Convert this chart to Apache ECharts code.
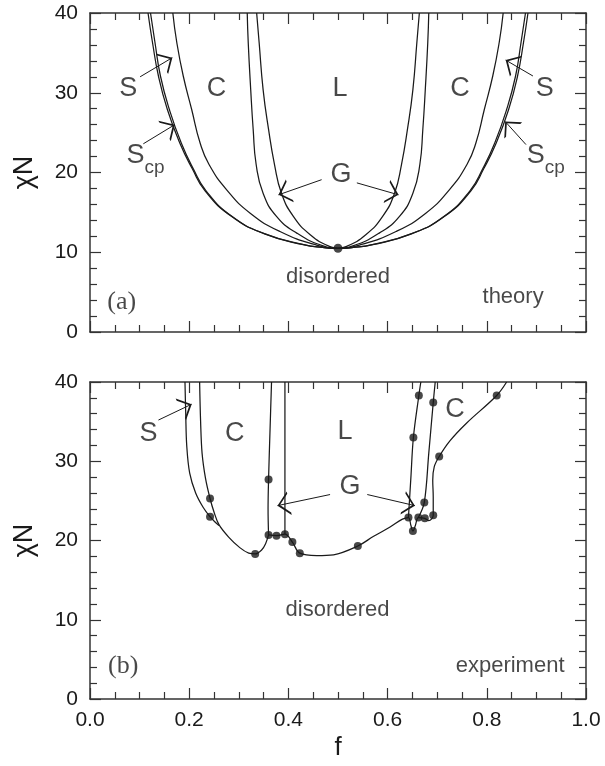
<!DOCTYPE html>
<html>
<head>
<meta charset="utf-8">
<script src="https://cdn.jsdelivr.net/npm/echarts@6/dist/echarts.min.js"></script>
<style>
  html, body { margin: 0; padding: 0; background: #fff; }
  #chart { width: 605px; height: 766px; }
</style>
</head>
<body>
<div id="chart"></div>
<script>
// Phase diagram, theory (a) vs experiment (b): chi*N against f

// --- (a) theory: boundaries, each from left top through the critical point to right top ---
var thScp = [[0.117,40],[0.126,36.3],[0.138,32.1],[0.156,27.9],[0.181,23.7],[0.206,20.5],[0.232,17.7],[0.285,14.5],[0.352,12.3],[0.430,10.95],[0.470,10.6],[0.5,10.5],
             [0.530,10.6],[0.570,10.95],[0.648,12.3],[0.715,14.5],[0.768,17.7],[0.794,20.5],[0.819,23.7],[0.844,27.9],[0.862,32.1],[0.874,36.3],[0.883,40]];
var thS   = [[0.122,40],[0.131,36.3],[0.142,32.1],[0.160,27.9],[0.184,23.7],[0.208,20.5],[0.234,17.7],[0.286,14.5],[0.353,12.3],[0.431,10.95],[0.470,10.6],[0.5,10.5],
             [0.530,10.6],[0.569,10.95],[0.647,12.3],[0.714,14.5],[0.766,17.7],[0.792,20.5],[0.816,23.7],[0.840,27.9],[0.858,32.1],[0.869,36.3],[0.878,40]];
var thC   = [[0.167,40],[0.175,36.3],[0.188,32.1],[0.205,27.9],[0.222,23.7],[0.240,21.0],[0.276,17.8],[0.323,14.9],[0.383,12.6],[0.457,10.9],[0.5,10.5],
             [0.543,10.9],[0.617,12.6],[0.677,14.9],[0.724,17.8],[0.760,21.0],[0.778,23.7],[0.795,27.9],[0.812,32.1],[0.825,36.3],[0.833,40]];
var thG   = [[0.317,40],[0.319,36.3],[0.324,30.4],[0.329,25.4],[0.335,21.0],[0.349,17.4],[0.376,14.5],[0.417,12.4],[0.470,10.8],[0.5,10.5],
             [0.530,10.8],[0.583,12.4],[0.624,14.5],[0.651,17.4],[0.665,21.0],[0.671,25.4],[0.676,30.4],[0.681,36.3],[0.683,40]];
var thL   = [[0.336,40],[0.341,36.3],[0.349,30.4],[0.360,25.4],[0.372,21.0],[0.386,17.4],[0.410,14.5],[0.444,12.2],[0.484,10.7],[0.5,10.5],
             [0.516,10.7],[0.556,12.2],[0.590,14.5],[0.614,17.4],[0.628,21.0],[0.640,25.4],[0.651,30.4],[0.659,36.3],[0.664,40]];
var thCritical = [[0.5,10.5]];
var thTexts = [[0.077,30.5,'S'],[0.112,21.6,'Scp'],[0.255,30.5,'C'],[0.504,30.5,'L'],[0.746,30.5,'C'],[0.917,30.5,'S'],
               [0.919,21.6,'Scp'],[0.506,19.8,'G'],[0.5,6.9,'disordered'],[0.853,4.4,'theory'],[0.064,3.8,'(a)']];
var thArrows = [[[0.101,32.0],[0.166,34.4]],[[0.1075,23.6],[0.171,26.0]],[[0.893,32.1],[0.838,34.1]],
                [[0.879,23.5],[0.837,26.4]],[[0.467,19.1],[0.380,17.2]],[[0.538,18.7],[0.622,17.2]]];

// --- (b) experiment ---
var exA = [[0.1915,40],[0.193,36],[0.195,32],[0.201,28.5],[0.213,26.0],[0.228,24.2],[0.242,23.0],[0.251,22.4],[0.260,21.9]];
var exB = [[0.221,40],[0.223,35],[0.226,31],[0.233,27.8],[0.242,25.3],[0.250,23.6],[0.260,22.0],[0.280,20.4],[0.302,19.1],[0.320,18.4],[0.333,18.3],[0.346,18.8],[0.354,19.6],[0.360,20.7]];
var exC = [[0.360,20.7],[0.359,24.0],[0.360,27.7],[0.363,34.0],[0.366,40]];
var exD = [[0.393,20.8],[0.393,40]];
var exE = [[0.360,20.7],[0.376,20.6],[0.393,20.8],[0.408,19.8],[0.423,18.4],[0.457,18.1],[0.491,18.2],[0.540,19.3],[0.571,20.5],[0.605,21.7],[0.630,22.7],[0.642,22.9],
           [0.647,21.9],[0.651,21.2],[0.656,21.9],[0.662,22.9],[0.675,22.8],[0.683,22.5],[0.692,23.2],[0.692,25.5],[0.691,27.6],[0.694,29.3],[0.704,30.6],[0.726,32.6],[0.759,34.8],[0.820,38.3],[0.840,40]];
var exF = [[0.642,22.9],[0.647,28.0],[0.652,33.0],[0.663,38.3],[0.667,40]];
var exG = [[0.662,22.9],[0.674,24.8],[0.683,31.0],[0.692,37.4],[0.696,40]];
var exPoints = [[0.242,25.3],[0.242,23.0],[0.333,18.3],[0.360,27.7],[0.360,20.7],[0.376,20.6],[0.393,20.8],[0.408,19.8],[0.423,18.4],[0.540,19.3],
                [0.642,22.9],[0.651,21.2],[0.662,22.9],[0.675,22.8],[0.674,24.8],[0.692,23.2],[0.652,33.0],[0.663,38.3],[0.692,37.4],[0.704,30.6],[0.820,38.3]];
var exTexts = [[0.118,33.5,'S'],[0.292,33.5,'C'],[0.514,33.7,'L'],[0.736,36.5,'C'],[0.524,26.8,'G'],[0.499,11.2,'disordered'],[0.847,4.2,'experiment'],[0.067,4.1,'(b)']];
var exArrows = [[[0.138,35.2],[0.205,37.2]],[[0.484,25.8],[0.378,24.4]],[[0.559,25.8],[0.655,24.4]]];

var xTicks = { min: 0, max: 1, interval: 0.2 };
var yTicks = { min: 0, max: 40, interval: 10 };

var ink = '#1a1a1a';
var frame = '#333';
var sans = 'Liberation Sans';
// open arrowhead; the empty top half keeps the tip on the line end
var arrowHead = 'path://M5,0 L5.01,0 Z M0,24 L5,12 L10,24 L9,24 L5,14.5 L1,24 Z';

var chart = echarts.init(document.getElementById('chart'), null, { renderer: 'canvas' });

function xAxisOf(gi, pos, labels, name) {
  return {
    type: 'value', gridIndex: gi, position: pos,
    min: xTicks.min, max: xTicks.max, interval: xTicks.interval,
    name: name || '', nameLocation: 'middle', nameGap: 36,
    nameTextStyle: { fontFamily: sans, fontSize: 26, color: ink },
    axisLine: { show: true, onZero: false, lineStyle: { color: frame, width: 1.5 } },
    axisTick: { show: true, inside: true, length: 11, lineStyle: { color: frame, width: 1.2 } },
    minorTick: { show: true, splitNumber: 4, length: 7, lineStyle: { color: frame, width: 1.2 } },
    splitLine: { show: false }, minorSplitLine: { show: false },
    axisLabel: { show: labels, fontFamily: sans, fontSize: 21, color: ink, margin: 11,
      formatter: function(v) { return v.toFixed(1); } }
  };
}
function yAxisOf(gi, pos, labels, name) {
  return {
    type: 'value', gridIndex: gi, position: pos,
    min: yTicks.min, max: yTicks.max, interval: yTicks.interval,
    name: name || '', nameLocation: 'middle', nameGap: 52, nameRotate: 90,
    nameTextStyle: { fontFamily: sans, fontSize: 27, color: ink },
    axisLine: { show: true, onZero: false, lineStyle: { color: frame, width: 1.5 } },
    axisTick: { show: true, inside: true, length: 11, lineStyle: { color: frame, width: 1.2 } },
    minorTick: { show: true, splitNumber: 5, length: 7, lineStyle: { color: frame, width: 1.2 } },
    splitLine: { show: false }, minorSplitLine: { show: false },
    axisLabel: { show: labels, fontFamily: sans, fontSize: 21, color: ink, margin: 12 }
  };
}

function curve(data, xi, yi, sm) {
  return { type: 'line', data: data, xAxisIndex: xi, yAxisIndex: yi, smooth: sm,
    symbol: 'none', silent: true, lineStyle: { color: ink, width: 1.25 }, z: 3 };
}
function dots(data, xi, yi, size) {
  return { type: 'scatter', data: data, xAxisIndex: xi, yAxisIndex: yi, symbolSize: size,
    itemStyle: { color: ink }, silent: true, z: 5 };
}
function texts(data, xi, yi) {
  return {
    type: 'scatter', xAxisIndex: xi, yAxisIndex: yi, symbolSize: 1, silent: true, z: 6,
    itemStyle: { color: 'rgba(0,0,0,0)' },
    data: data,
    label: {
      show: true, position: 'inside', color: ink,
      formatter: function(p) {
        var t = p.data[2];
        if (t === 'Scp') return '{m|S}{s|cp}';
        if (t.charAt(0) === '(') return '{serif|' + t + '}';
        if (t.length > 1) return '{w|' + t + '}';
        return '{big|' + t + '}';
      },
      rich: {
        big: { fontFamily: sans, fontSize: 27, color: ink },
        m: { fontFamily: sans, fontSize: 27, color: ink, padding: [0, 0, 9, 0] },
        s: { fontFamily: sans, fontSize: 19, color: ink, verticalAlign: 'bottom' },
        w: { fontFamily: sans, fontSize: 22, color: ink },
        serif: { fontFamily: 'Liberation Serif', fontSize: 26, color: ink }
      }
    }
  };
}
function arrows(data, xi, yi) {
  return {
    type: 'lines', coordinateSystem: 'cartesian2d', xAxisIndex: xi, yAxisIndex: yi,
    silent: true, z: 4,
    symbol: ['none', arrowHead], symbolSize: [6, 24],
    lineStyle: { color: ink, width: 1, curveness: 0, opacity: 1 },
    data: data.map(function(c) { return { coords: c }; })
  };
}

chart.setOption({
  animation: false,
  backgroundColor: '#fff',
  grid: [
    { left: 90, top: 13, width: 496, height: 319, containLabel: false, outerBoundsMode: 'none' },
    { left: 90, top: 382, width: 496, height: 317, containLabel: false, outerBoundsMode: 'none' }
  ],
  xAxis: [
    xAxisOf(0, 'bottom', false),
    xAxisOf(0, 'top', false),
    xAxisOf(1, 'bottom', true, 'f'),
    xAxisOf(1, 'top', false)
  ],
  yAxis: [
    yAxisOf(0, 'left', true, 'χN'),
    yAxisOf(0, 'right', false),
    yAxisOf(1, 'left', true, 'χN'),
    yAxisOf(1, 'right', false)
  ],
  series: [
    curve(thScp, 0, 0, 0.5), curve(thS, 0, 0, 0.5), curve(thC, 0, 0, 0.5), curve(thG, 0, 0, 0.5), curve(thL, 0, 0, 0.5),
    dots(thCritical, 0, 0, 9),
    texts(thTexts, 0, 0),
    arrows(thArrows, 0, 0),
    curve(exA, 2, 2, 0.35), curve(exB, 2, 2, 0.35), curve(exC, 2, 2, 0.35), curve(exD, 2, 2, 0),
    curve(exE, 2, 2, 0.35), curve(exF, 2, 2, 0.35), curve(exG, 2, 2, 0.35),
    dots(exPoints, 2, 2, 8),
    texts(exTexts, 2, 2),
    arrows(exArrows, 2, 2)
  ]
});
window.addEventListener('resize', function() { chart.resize(); });
</script>
</body>
</html>
